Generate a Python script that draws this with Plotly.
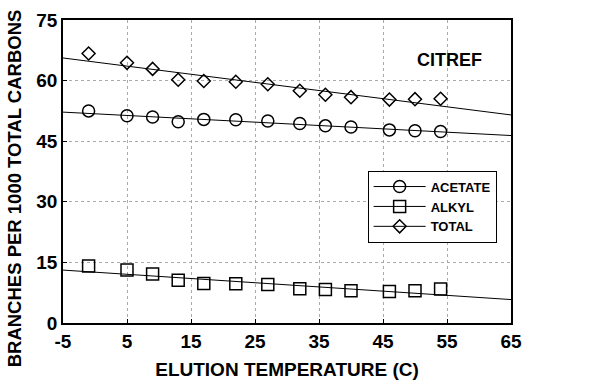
import plotly.graph_objects as go

temps = [-1, 5, 9, 13, 17, 22, 27, 32, 36, 40, 46, 50, 54]
acetate = [52.5, 51.3, 51.0, 49.8, 50.4, 50.3, 50.0, 49.4, 48.8, 48.5, 47.8, 47.6, 47.4]
alkyl = [14.1, 13.1, 12.1, 10.6, 9.8, 9.7, 9.5, 8.5, 8.3, 8.0, 7.8, 8.0, 8.4]
total = [66.7, 64.4, 62.9, 60.2, 59.9, 59.7, 59.1, 57.5, 56.5, 55.9, 55.3, 55.4, 55.5]

fit_x = [-5, 65]
acetate_fit = [52.2, 46.4]
alkyl_fit = [13.1, 5.8]
total_fit = [65.6, 51.5]

x_ticks = [-5, 5, 15, 25, 35, 45, 55, 65]
y_ticks = [0, 15, 30, 45, 60, 75]

fig = go.Figure()
for name, ys, fy, sym, sz in [("ACETATE", acetate, acetate_fit, "circle-open", 12),
                              ("ALKYL", alkyl, alkyl_fit, "square-open", 12),
                              ("TOTAL", total, total_fit, "diamond-open", 10)]:
    fig.add_trace(go.Scatter(x=fit_x, y=fy, mode="lines",
                             line=dict(color="black", width=1), showlegend=False))
    fig.add_trace(go.Scatter(x=temps, y=ys, mode="markers", showlegend=False,
                             marker=dict(symbol=sym, size=sz, color="black",
                                         line=dict(color="black", width=1.5))))
    fig.add_trace(go.Scatter(x=[None], y=[None], mode="lines+markers", name=name,
                             line=dict(color="black", width=1),
                             marker=dict(symbol=sym, size=sz, color="black",
                                         line=dict(color="black", width=1.5))))

font = "Liberation Sans, Arial, sans-serif"
fig.update_layout(
    width=610, height=383,
    margin=dict(l=63, r=99, t=20, b=60, autoexpand=False),
    paper_bgcolor="white", plot_bgcolor="white",
    font=dict(family=font, color="black"),
    showlegend=True,
    legend=dict(x=0.68, y=0.503, xanchor="left", yanchor="top",
                bordercolor="black", borderwidth=1, bgcolor="white",
                font=dict(size=13, family=font, weight="bold"),
                tracegroupgap=0, itemwidth=52),
    annotations=[
        dict(text="<b>CITREF</b>", x=50, y=65.2, xref="x", yref="y",
             xanchor="left", yanchor="middle", showarrow=False,
             font=dict(size=18, family=font)),
        dict(text="<b>BRANCHES PER 1000 TOTAL CARBONS</b>", x=-0.109, y=0.445,
             xref="paper", yref="paper", xanchor="center", yanchor="middle",
             textangle=-90, showarrow=False, font=dict(size=18.5, family=font)),
    ],
)
fig.update_xaxes(range=[-5, 65], tickvals=x_ticks, ticktext=[str(v) for v in x_ticks],
                 showgrid=True, gridcolor="#aaa", griddash="dot", gridwidth=1,
                 showline=True, linecolor="black", linewidth=1.5, mirror=True,
                 ticks="inside", ticklen=4, tickcolor="black", zeroline=False,
                 automargin=False,
                 tickfont=dict(size=19, family=font, weight="bold"),
                 title=dict(text="<b>ELUTION TEMPERATURE (C)</b>", standoff=12,
                            font=dict(size=19, family=font)))
fig.update_yaxes(range=[0, 75], tickvals=y_ticks,
                 showgrid=True, gridcolor="#aaa", griddash="dot", gridwidth=1,
                 showline=True, linecolor="black", linewidth=1.5, mirror=True,
                 ticks="inside", ticklen=4, tickcolor="black", zeroline=False,
                 automargin=False,
                 tickfont=dict(size=19, family=font, weight="bold"))
fig.write_html("out.html")
